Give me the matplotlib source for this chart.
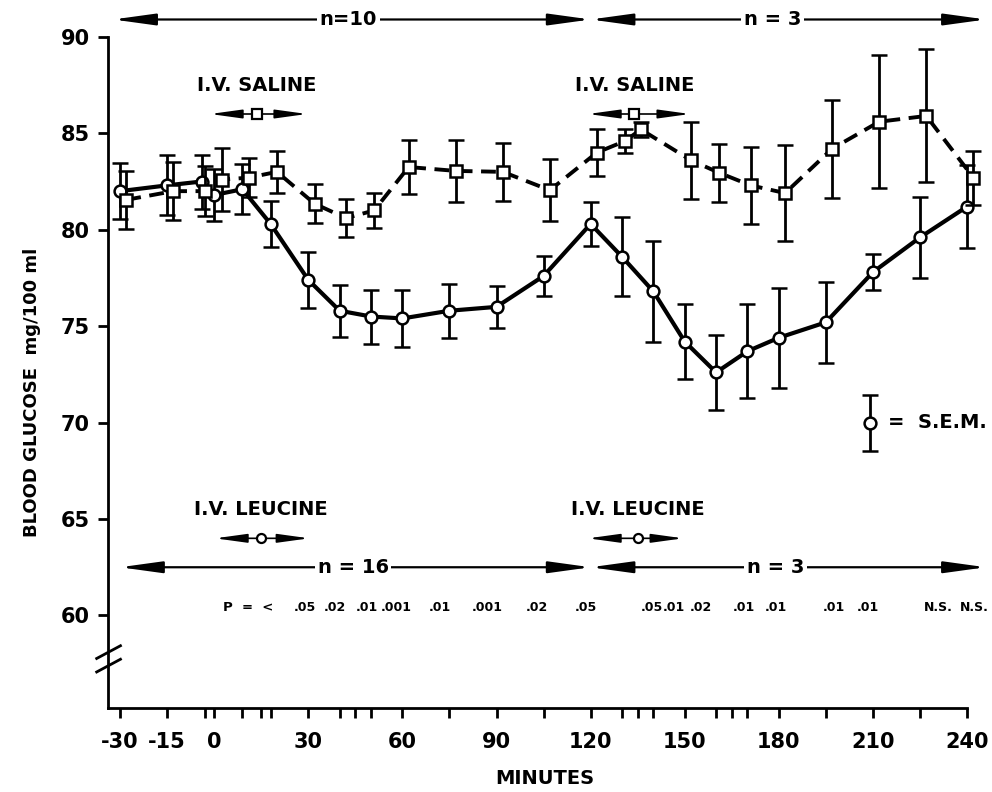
import numpy as np
import matplotlib
matplotlib.use("Agg")
import matplotlib.pyplot as plt
from matplotlib.transforms import blended_transform_factory

plt.rcParams["font.family"] = "DejaVu Sans"
plt.rcParams["font.weight"] = "bold"

# ── data ─────────────────────────────────────────────────────────────────
leu_t = [-30, -15, -4, 0, 9, 18, 30, 40, 50, 60, 75, 90, 105, 120,
         130, 140, 150, 160, 170, 180, 195, 210, 225, 240]
leu_mean = [82.0, 82.3, 82.5, 81.8, 82.1, 80.3, 77.4, 75.8, 75.5, 75.4, 75.8, 76.0,
            77.6, 80.3, 78.6, 76.8, 74.2, 72.6, 73.7, 74.4, 75.2, 77.8, 79.6, 81.2]
leu_sem = [1.45, 1.55, 1.4, 1.35, 1.3, 1.2, 1.45, 1.35, 1.4, 1.5, 1.4, 1.1,
           1.05, 1.15, 2.05, 2.6, 1.95, 1.95, 2.45, 2.6, 2.1, 0.95, 2.1, 2.15]

sal_t = [-28, -13, -3, 2.5, 11, 20, 32, 42, 51, 62, 77, 92, 107, 122,
         131, 136, 152, 161, 171, 182, 197, 212, 227, 242]
sal_mean = [81.55, 82.0, 82.0, 82.6, 82.7, 83.0, 81.35, 80.6, 81.0, 83.25, 83.05, 83.0,
            82.05, 84.0, 84.6, 85.2, 83.6, 82.95, 82.3, 81.9, 84.2, 85.6, 85.9, 82.7]
sal_sem = [1.5, 1.5, 1.3, 1.65, 1.0, 1.1, 1.0, 1.0, 0.9, 1.4, 1.6, 1.5,
           1.6, 1.2, 0.6, 0.4, 2.0, 1.5, 2.0, 2.5, 2.55, 3.45, 3.45, 1.4]

x_major = [-30, -15, 0, 30, 60, 90, 120, 150, 180, 210, 240]
x_labels = ["-30", "-15", "0", "30", "60", "90", "120", "150", "180", "210", "240"]
x_minor = [-3, 9, 15, 18, 40, 45, 50, 75, 105, 130, 135, 140, 160, 165, 170, 195, 225]
y_major = [60, 65, 70, 75, 80, 85, 90]

p_x = [29, 38.6, 48.8, 58, 72, 87, 103, 118.6, 139.6, 146.6, 155, 169, 179,
       197.6, 208.4, 230.8, 242.2]
p_labels = [".05", ".02", ".01", ".001", ".01", ".001", ".02", ".05", ".05", ".01",
            ".02", ".01", ".01", ".01", ".01", "N.S.", "N.S."]

# infusion periods (start, end, mid) and group sizes
saline_periods = [(-1.3, 29.6, 13.7), (119.2, 151.7, 133.9)]
leucine_periods = [(0.3, 30.3, 15.0), (119.2, 149.5, 135.0)]
n_top = [(-32.2, 120, 42.7, "n=10"), (120, 246, 178, "n = 3")]
n_bottom = [(-30, 120, 44.3, "n = 16"), (120, 246, 179, "n = 3")]


fig = plt.figure(figsize=(9.92, 7.92), dpi=100)
ax = fig.add_axes([0.109, 0.106, 0.888, 0.884])
ax.set_xlim(-33.8, 247)
ax.set_ylim(55.2, 91.5)

# series
ax.errorbar(leu_t, leu_mean, yerr=leu_sem, color="black", lw=3.0, ls="-",
            marker="o", ms=8.5, mfc="white", mec="black", mew=1.8,
            ecolor="black", elinewidth=2, capsize=5.5, capthick=2.2, zorder=3)
ax.errorbar(sal_t, sal_mean, yerr=sal_sem, color="black", lw=2.8,
            ls=(0, (3.8, 2.2)), marker="s", ms=8, mfc="white", mec="black",
            mew=1.8, ecolor="black", elinewidth=2, capsize=5.5, capthick=2.2,
            zorder=4)

# axes styling
for s in ["top", "right"]:
    ax.spines[s].set_visible(False)
ax.spines["left"].set_bounds(55.2, 90)
ax.spines["bottom"].set_bounds(-33.8, 240)
ax.spines["left"].set_linewidth(2)
ax.spines["bottom"].set_linewidth(2)

ax.set_xticks(x_major)
ax.set_xticklabels(x_labels, fontsize=15, fontweight="bold")
ax.set_xticks(x_minor, minor=True)
ax.set_yticks(y_major)
ax.set_yticklabels([str(v) for v in y_major], fontsize=15, fontweight="bold")
ax.tick_params(axis="both", which="both", direction="out", length=7, width=2)
ax.tick_params(axis="x", which="major", pad=10)
ax.tick_params(axis="y", which="major", pad=6)

# axis break marks
tr = blended_transform_factory(ax.transAxes, ax.transData)
for yb in [58.1, 57.4]:
    ax.plot([-0.013, 0.014], [yb - 0.33, yb + 0.33], color="black", lw=2,
            transform=tr, clip_on=False)

fig.text(32 / 992, 1 - 392 / 792, "BLOOD GLUCOSE  mg/100 ml", rotation=90,
         ha="center", va="center", fontsize=13, fontweight="bold")
fig.text(545 / 992, 1 - 778 / 792, "MINUTES", ha="center", va="center",
         fontsize=14, fontweight="bold")


def span_arrow(x0, x1, y, lw, scale, head):
    ax.annotate("", xy=(x1, y), xytext=(x0, y),
                arrowprops=dict(arrowstyle=f"<|-|>,head_length={head[0]},head_width={head[1]}",
                                color="black", lw=lw, mutation_scale=scale,
                                shrinkA=0, shrinkB=0),
                annotation_clip=False)


# group size arrows
for x0, x1, xm, lab in n_top:
    span_arrow(x0, x1, 90.9, 1.6, 16, (1.6, 0.22))
    ax.text(xm, 90.9, lab, ha="center", va="center", fontsize=14, fontweight="bold",
            bbox=dict(fc="white", ec="none", pad=2), clip_on=False)
for x0, x1, xm, lab in n_bottom:
    span_arrow(x0, x1, 62.5, 1.6, 16, (1.6, 0.22))
    ax.text(xm, 62.5, lab, ha="center", va="center", fontsize=14, fontweight="bold",
            bbox=dict(fc="white", ec="none", pad=2))

# infusion markers
for x0, x1, xm in saline_periods:
    span_arrow(x0, x1, 86.0, 1.2, 12, (1.6, 0.22))
    ax.plot(xm, 86.0, marker="s", ms=6.5, mfc="white", mec="black", mew=1.6, zorder=5)
    ax.text(xm, 87.5, "I.V. SALINE", ha="center", va="center", fontsize=14,
            fontweight="bold")
for x0, x1, xm in leucine_periods:
    span_arrow(x0, x1, 64.0, 1.2, 12, (1.6, 0.22))
    ax.plot(xm, 64.0, marker="o", ms=6.5, mfc="white", mec="black", mew=1.6, zorder=5)
    ax.text(xm, 65.5, "I.V. LEUCINE", ha="center", va="center", fontsize=14,
            fontweight="bold")

# p values
ax.text(10.8, 60.4, "P  =  <", ha="center", va="center", fontsize=9.5, fontweight="bold")
for xp, lab in zip(p_x, p_labels):
    ax.text(xp, 60.4, lab, ha="center", va="center", fontsize=9, fontweight="bold")

# S.E.M. key
ax.errorbar([209], [70.0], yerr=[1.45], color="black", marker="o", ms=8.5,
            mfc="white", mec="black", mew=1.8, elinewidth=2, capsize=5.5, capthick=2.2)
ax.text(214.8, 70.0, "=  S.E.M.", ha="left", va="center", fontsize=14,
        fontweight="bold")

fig.savefig("out.png", dpi=100)
